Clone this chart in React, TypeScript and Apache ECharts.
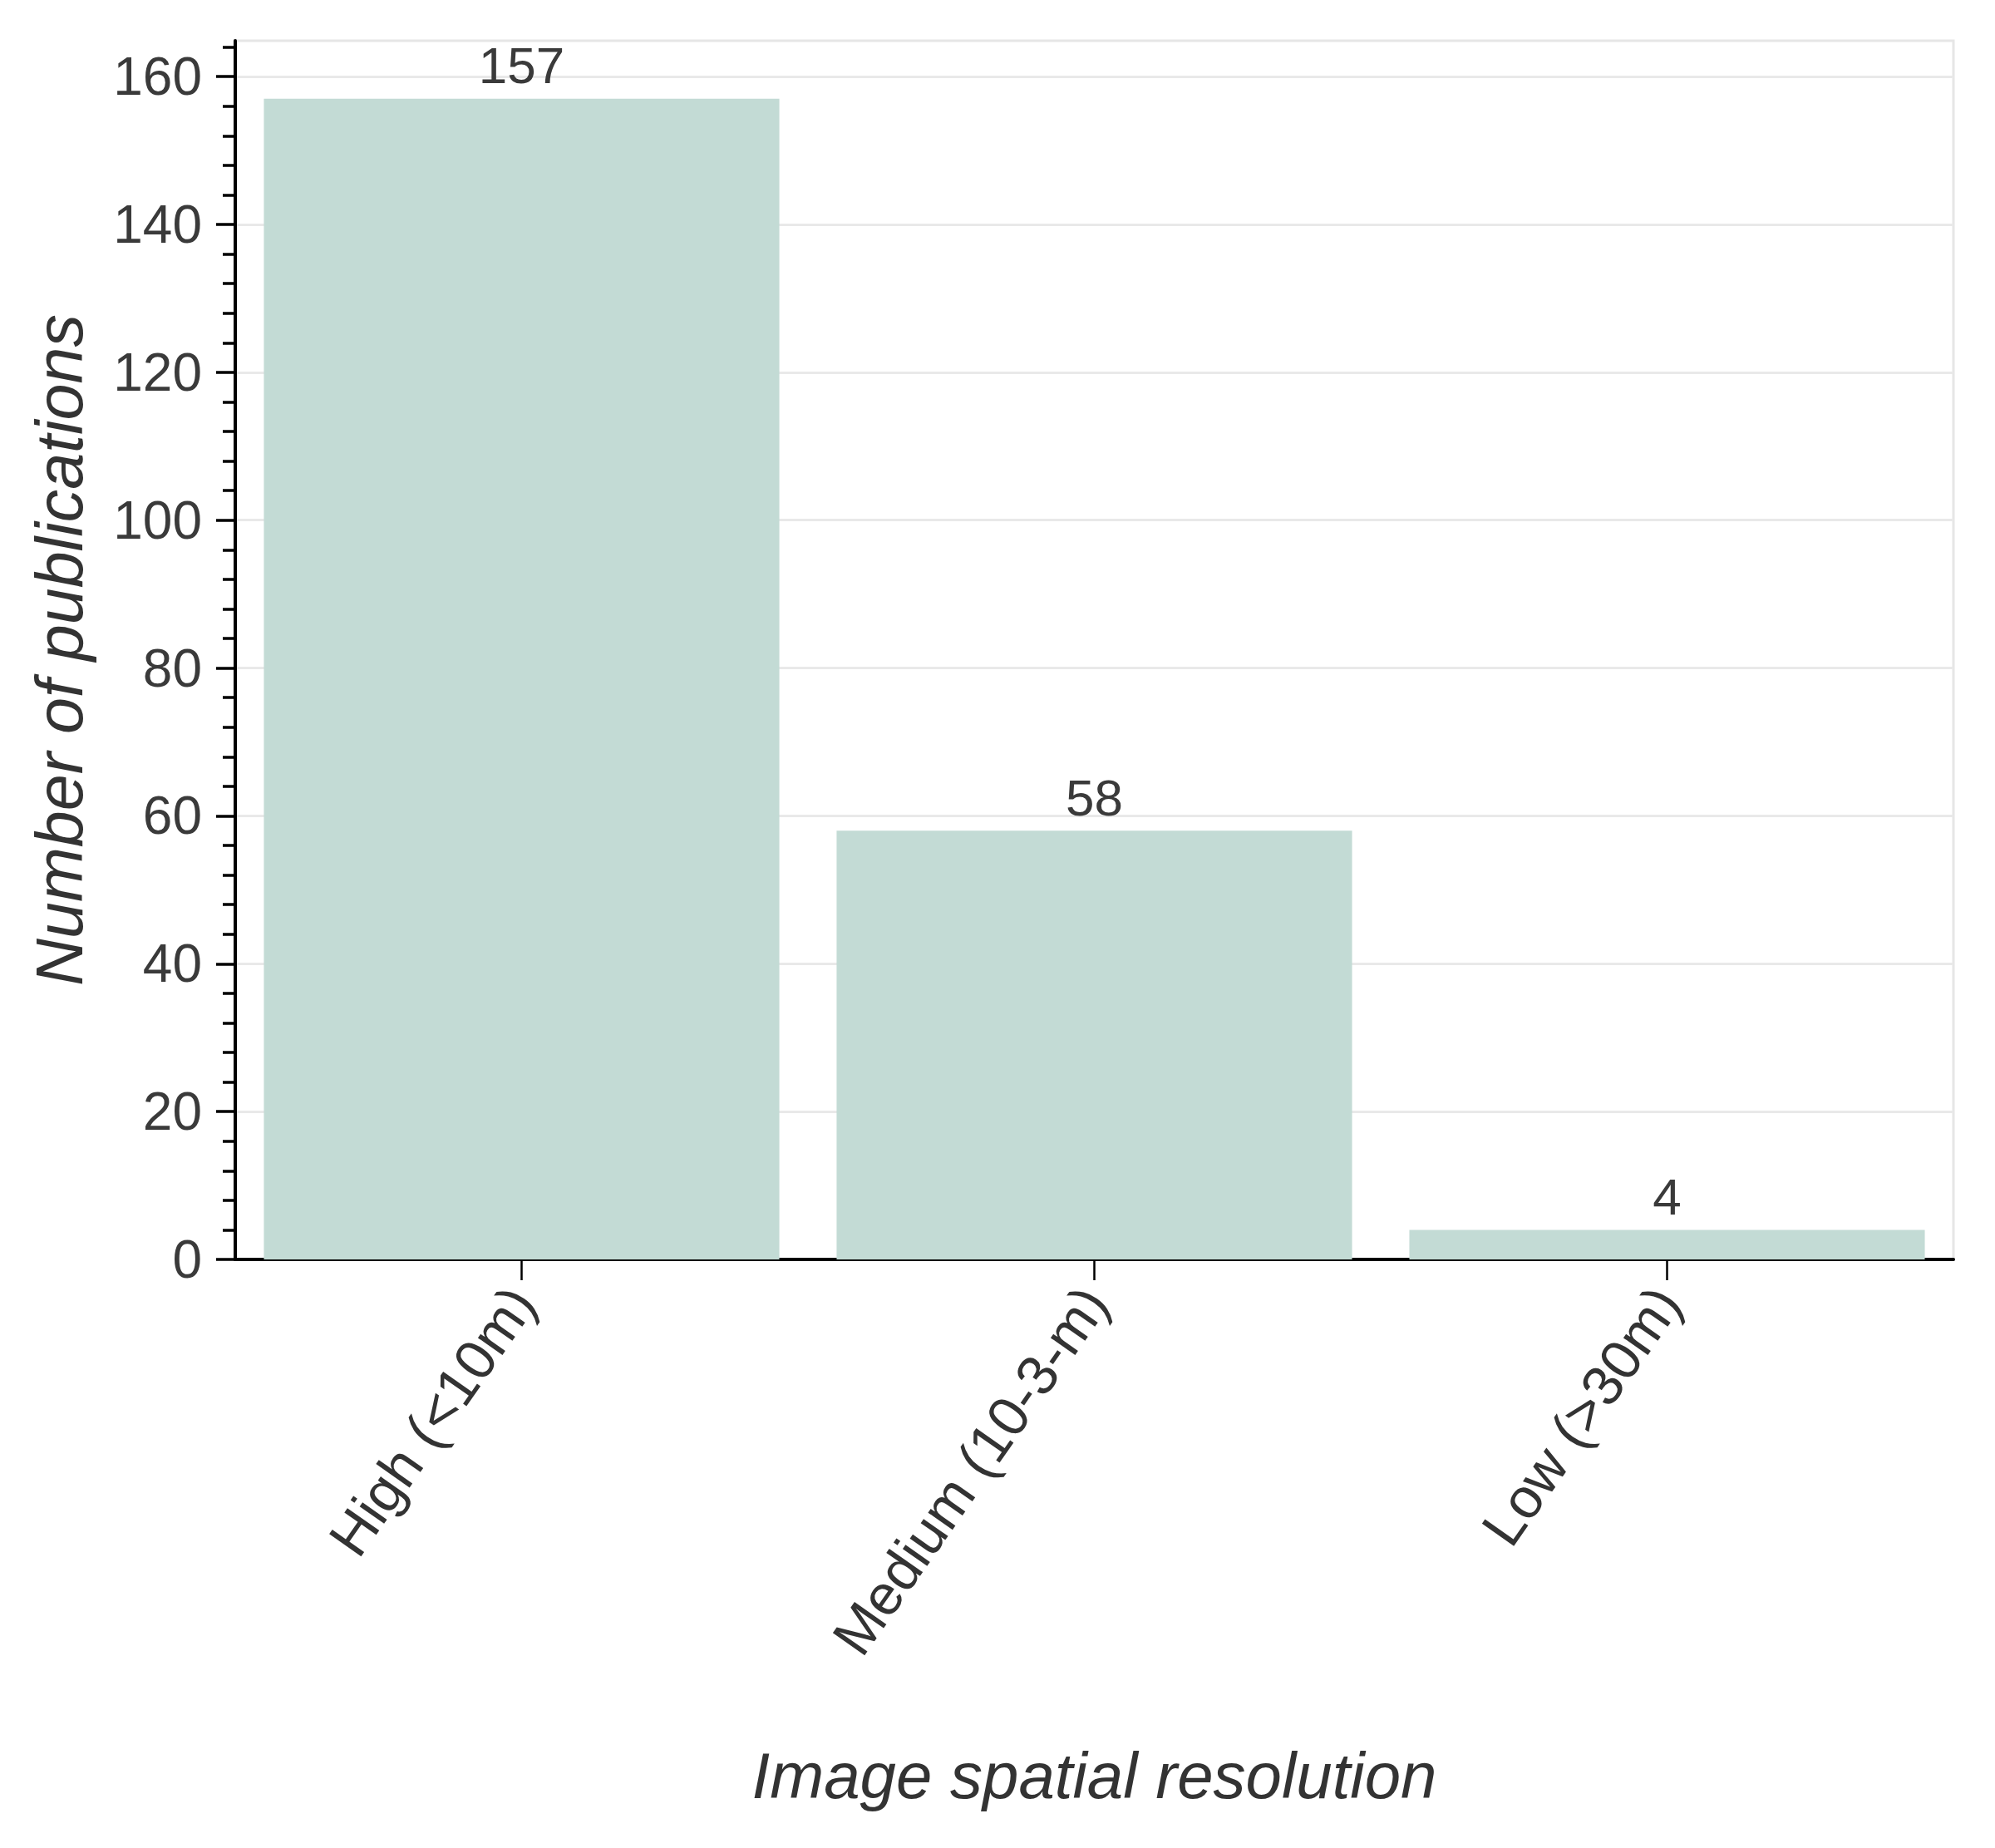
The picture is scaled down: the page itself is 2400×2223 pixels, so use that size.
import React, { useEffect, useRef } from "react";
import * as echarts from "echarts";

const categories = ["High (<10m)", "Medium (10-3-m)", "Low (>30m)"];
const publications = [157, 58, 4];
const yMajorTicks = [0, 20, 40, 60, 80, 100, 120, 140, 160];
const yMinorTicks = [4, 8, 12, 16, 24, 28, 32, 36, 44, 48, 52, 56, 64, 68, 72, 76, 84, 88, 92, 96, 104, 108, 112, 116, 124, 128, 132, 136, 144, 148, 152, 156, 164];
const yMax = 164.85;

const FONT = "'Liberation Sans', Arial, sans-serif";

export default function App() {
  const ref = useRef<HTMLDivElement>(null);
  useEffect(() => {
    document.body.style.margin = "0";
    const chart = echarts.init(ref.current!, null, { renderer: "svg" });
    const gridRect = { left: 283, right: 50, top: 49, bottom: 708 };
    chart.setOption({
      animation: false,
      backgroundColor: "#ffffff",
      grid: [
        { ...gridRect, show: true, borderColor: "#e6e6e6", borderWidth: 3, backgroundColor: "#ffffff" },
        { ...gridRect, show: false },
      ],
      xAxis: [
        {
          type: "category",
          gridIndex: 0,
          data: categories,
          name: "Image spatial resolution",
          nameLocation: "middle",
          nameGap: 582,
          nameTextStyle: { fontFamily: FONT, fontSize: 78, fontStyle: "italic", color: "#333" },
          axisLine: { show: true, lineStyle: { color: "#000", width: 4 } },
          axisTick: { show: true, alignWithLabel: true, length: 25, lineStyle: { color: "#000", width: 2.5 } },
          axisLabel: { rotate: 55, margin: 40, fontFamily: FONT, fontSize: 68, color: "#333" },
          splitLine: { show: false },
        },
        { type: "category", gridIndex: 1, data: categories, show: false },
      ],
      yAxis: [
        {
          type: "value",
          gridIndex: 0,
          min: 0,
          max: yMax,
          interval: 20,
          name: "Number of publications",
          nameLocation: "middle",
          nameRotate: 90,
          nameGap: 172,
          nameTextStyle: { fontFamily: FONT, fontSize: 79, fontStyle: "italic", color: "#333" },
          axisLine: { show: true, lineStyle: { color: "#000", width: 4 } },
          axisTick: { show: true, customValues: yMajorTicks, length: 23, lineStyle: { color: "#000", width: 3.5 } },
          axisLabel: { customValues: yMajorTicks, margin: 40, fontFamily: FONT, fontSize: 64, color: "#3a3a3a" },
          splitLine: { show: true, lineStyle: { color: "#e9e9e9", width: 3 } },
        },
        {
          type: "value",
          gridIndex: 1,
          min: 0,
          max: yMax,
          position: "left",
          axisLine: { show: false },
          axisTick: { show: true, customValues: yMinorTicks, length: 15, lineStyle: { color: "#000", width: 3.5 } },
          axisLabel: { show: false },
          splitLine: { show: false },
        },
      ],
      series: [
        {
          type: "bar",
          xAxisIndex: 0,
          yAxisIndex: 0,
          data: publications,
          barCategoryGap: "10%",
          itemStyle: { color: "#c3dbd5" },
          label: { show: true, position: "top", distance: 9, fontFamily: FONT, fontSize: 62, color: "#3a3a3a" },
        },
      ],
    });
    return () => chart.dispose();
  }, []);
  return <div ref={ref} style={{ width: 2400, height: 2223 }} />;
}
